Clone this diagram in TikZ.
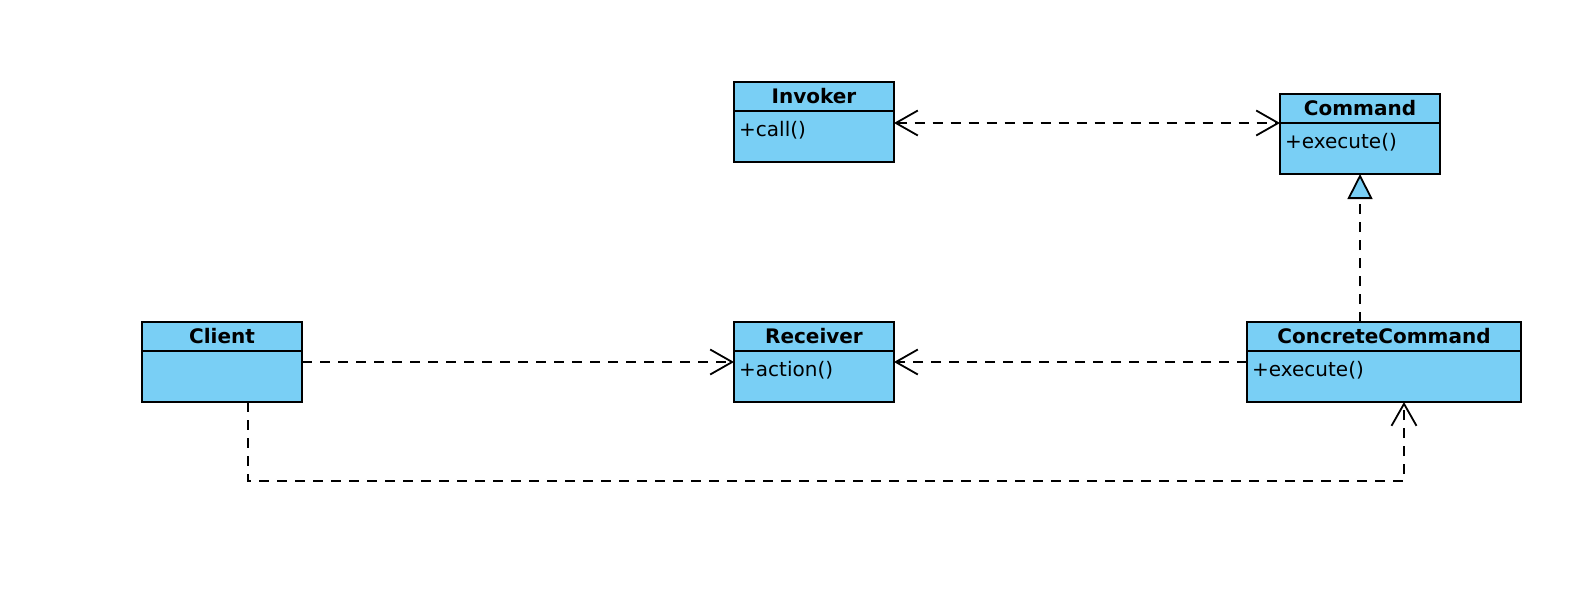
\documentclass[tikz,border=0pt]{standalone}
\usepackage{fontspec}
\setmainfont{DejaVu Sans}
\usetikzlibrary{arrows.meta,calc}
\definecolor{umlblue}{RGB}{121,207,245}
\tikzset{
  classhdr/.style={draw=black, fill=umlblue, line width=1.8pt, outer sep=0pt, inner sep=0pt,
    anchor=north west, minimum height=29pt, text height=14pt, text depth=0pt,
    font=\fontsize{20}{24}\selectfont\bfseries},
  classbody/.style={draw=black, fill=umlblue, line width=1.8pt, outer sep=0pt, inner sep=0pt,
    anchor=north west, minimum height=51pt},
  attr/.style={anchor=base west, inner sep=0pt, font=\fontsize{20}{24}\selectfont},
  dep/.style={draw=black, line width=1.8pt, dash pattern=on 10pt off 8pt},
  openv/.tip={Straight Barb[length=22pt,width=25pt,line width=1.8pt]},
  realize/.tip={Triangle[length=25pt,width=25pt,fill=umlblue,line width=1.8pt]}
}
\begin{document}
\begin{tikzpicture}[x=1pt,y=-1pt]
\useasboundingbox (0,0) rectangle (1584,598);
\fill[white] (0,0) rectangle (1584,598);

% Invoker
\node[classhdr, minimum width=160pt] (invH) at (734,82) {Invoker};
\node[classbody, minimum width=160pt] (invB) at (invH.south west) {};
\node[attr] (invT) at ($(invB.north west)+(5,25)$) {+call()};

% Command
\node[classhdr, minimum width=160pt] (cmdH) at (1280,94) {Command};
\node[classbody, minimum width=160pt] (cmdB) at (cmdH.south west) {};
\node[attr] (cmdT) at ($(cmdB.north west)+(5,25)$) {+execute()};

% Client
\node[classhdr, minimum width=160pt] (cliH) at (142,322) {Client};
\node[classbody, minimum width=160pt] (cliB) at (cliH.south west) {};

% Receiver
\node[classhdr, minimum width=160pt] (recH) at (734,322) {Receiver};
\node[classbody, minimum width=160pt] (recB) at (recH.south west) {};
\node[attr] (recT) at ($(recB.north west)+(5,25)$) {+action()};

% ConcreteCommand
\node[classhdr, minimum width=274pt] (ccH) at (1247,322) {ConcreteCommand};
\node[classbody, minimum width=274pt] (ccB) at (ccH.south west) {};
\node[attr] (ccT) at ($(ccB.north west)+(5,25)$) {+execute()};

% Invoker <-> Command
\draw[dep, {openv}-{openv}] (invB.east |- cmdB.north west) -- (cmdB.north west);

% ConcreteCommand realizes Command
\draw[dep, -{realize}] (cmdB.south |- ccH.north) -- (cmdB.south);

% Client -> Receiver
\draw[dep, -{openv}] ($(cliB.north east)+(0,11)$) -- ($(recB.north west)+(0,11)$);

% ConcreteCommand -> Receiver
\draw[dep, -{openv}] ($(ccB.north west)+(0,11)$) -- ($(recB.north east)+(0,11)$);

% Client -> ConcreteCommand
\coordinate (cstart) at ($(cliB.south)+(26,0)$);
\coordinate (cend) at ($(ccB.south west)+(157,0)$);
\draw[dep, -{openv}] (cstart) -- ($(cstart)+(0,79)$) -| (cend);
\end{tikzpicture}
\end{document}
